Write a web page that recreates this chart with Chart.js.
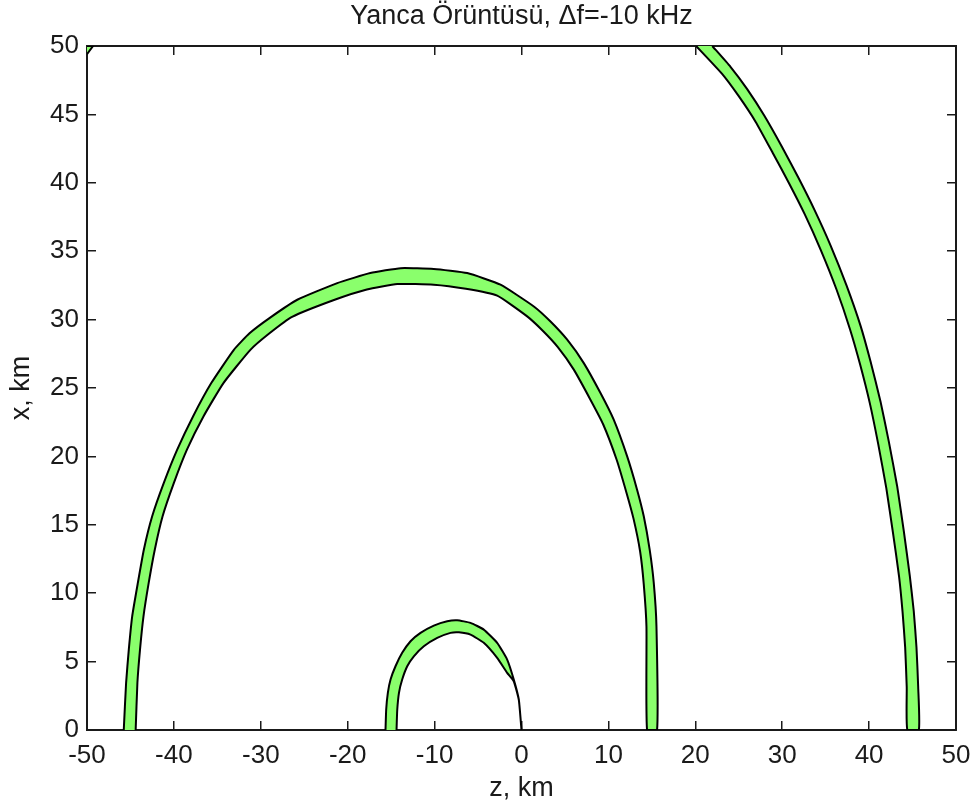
<!DOCTYPE html>
<html lang="tr">
<head>
<meta charset="UTF-8" />
<title>Yanca Örüntüsü</title>
<script src="https://cdn.jsdelivr.net/npm/chart.js@4.4.1/dist/chart.umd.min.js"></script>
<style>
  html, body { margin: 0; padding: 0; background: #ffffff; }
  #wrap { width: 975px; height: 809px; }
</style>
</head>
<body>
<div id="wrap"><canvas id="fringe" width="975" height="809"></canvas></div>
<script>
  // axis ticks (km)
  const zTicks = [-50, -40, -30, -20, -10, 0, 10, 20, 30, 40, 50];
  const xTicks = [0, 5, 10, 15, 20, 25, 30, 35, 40, 45, 50];

  // inner fringe near the origin
  const smallOuterZ = [-15.65, -15.57, -15.38, -15.07, -14.5, -13.73, -12.77, -11.62, -10.09, -8.55, -7.4, -5.87, -4.34, -2.8, -1.65, -0.89, -0.31, 0];
  const smallOuterX = [0, 1.5, 2.72, 3.69, 4.66, 5.64, 6.49, 7.1, 7.63, 7.95, 8.02, 7.83, 7.34, 6.37, 5.15, 3.69, 2.23, 0];
  const smallInnerZ = [-14.38, -14.3, -14.1, -13.73, -13.15, -12.39, -11.24, -9.7, -8.17, -7.2, -5.87, -4.34, -2.8, -1.65, -0.89, -0.31, 0];
  const smallInnerX = [0, 1.46, 2.72, 3.69, 4.66, 5.39, 6.12, 6.73, 7.1, 7.14, 6.97, 6.37, 5.27, 4.18, 3.56, 2.2, 0];

  // middle fringe
  const midOuterZ = [-45.77, -45.5, -45.19, -44.8, -44.15, -43.46, -42.5, -41.16, -39.62, -37.8, -35.7, -33.1, -31.3, -28.8, -25.8, -21.2, -17.4,
    -13.9, -10.1, -6.25, -2.42, 1.42, 3.34, 5.26, 7.17, 9.09, 10.6, 12.16, 13.3, 14.07, 14.75, 15.22, 15.53, 15.6];
  const midOuterX = [0, 3.45, 5.88, 8.31, 10.75, 13.18, 15.62, 18.06, 20.49, 22.92, 25.36, 27.79, 29.0, 30.2, 31.45, 32.67, 33.4,
    33.76, 33.7, 33.4, 32.55, 30.96, 29.86, 28.53, 26.82, 24.63, 22.7, 20.0, 17.57, 15.62, 13.18, 10.75, 7.58, 0];
  const midInnerZ = [-44.4, -44.2, -43.9, -43.5, -42.9, -42.2, -41.3, -40.0, -38.5, -36.6, -34.3, -31.2, -29.0, -26.4, -21.5, -17.8,
    -14.3, -10.1, -6.4, -2.8, 0.58, 2.36, 4.18, 6.0, 7.87, 9.38, 10.96, 12.08, 12.89, 13.65, 14.07, 14.38, 14.45];
  const midInnerX = [0, 3.45, 5.88, 8.31, 10.75, 13.18, 15.62, 18.06, 20.49, 22.92, 25.36, 27.79, 29.0, 30.2, 31.45, 32.2,
    32.6, 32.55, 32.25, 31.75, 30.27, 29.24, 27.99, 26.36, 24.22, 22.37, 19.74, 17.35, 15.45, 13.05, 10.65, 7.55, 0];

  // outer fringe, cut by the top of the frame
  const bigOuterZ = [21.95, 24.05, 25.97, 27.95, 30.0, 31.9, 33.7, 35.56, 37.4, 39.01, 40.16, 41.31, 42.27, 43.23, 43.99, 44.68, 45.14, 45.45, 45.65, 45.72];
  const bigOuterX = [50, 48.48, 46.85, 44.9, 42.6, 40.33, 38.04, 35.43, 32.5, 29.56, 26.95, 24.02, 21.08, 17.82, 14.55, 11.29, 8.68, 6.07, 3.13, 0];
  const bigInnerZ = [20.1, 23.06, 24.98, 26.95, 28.9, 30.8, 32.6, 34.43, 36.25, 37.8, 38.96, 40.1, 41.04, 41.98, 42.74, 43.45, 43.85, 44.15, 44.33, 44.4];
  const bigInnerX = [50, 47.98, 46.35, 44.45, 42.2, 39.95, 37.69, 35.1, 32.2, 29.3, 26.73, 23.84, 20.93, 17.68, 14.44, 11.22, 8.63, 6.04, 3.12, 0];

  // corner piece at (-50, 50)
  const cornerZ = [-50, -49.3, -50];
  const cornerX = [50, 50, 49.4];

  const fillColor = '#8aff6c';
  const inkColor = '#1a1a1a';
  const fontFamily = "'Liberation Sans', Arial, Helvetica, sans-serif";

  const toPoints = (zs, xs) => zs.map((z, i) => ({ x: z, y: xs[i] }));
  // closed outline: outer edge, then inner edge walked back
  const band = (oz, ox, iz, ix) => toPoints(oz, ox).concat(toPoints(iz, ix).reverse());

  const bandSet = (data, tension) => ({
    data,
    showLine: true,
    fill: 'shape',
    backgroundColor: fillColor,
    borderColor: '#000000',
    borderWidth: 2,
    borderJoinStyle: 'round',
    pointRadius: 0,
    tension
  });

  const fixedTicks = (list) => (scale) => { scale.ticks = list.map(v => ({ value: v })); };
  // fixed box sizes so the plot frame sits at 87..956 x 46..730
  const fitX = (h) => (s) => { s.height = h; s.paddingLeft = 0; s.paddingRight = 0; };
  const fitY = (w) => (s) => { s.width = w; s.paddingTop = 0; s.paddingBottom = 0; };

  const frameGrid = {
    drawOnChartArea: false,
    drawTicks: true,
    tickLength: -9,
    color: inkColor,
    lineWidth: 1.5
  };
  const frameBorder = { display: true, color: inkColor, width: 2 };
  const tickFont = { family: fontFamily, size: 26 };
  const titleFont = { family: fontFamily, size: 27 };

  new Chart(document.getElementById('fringe'), {
    type: 'scatter',
    data: {
      datasets: [
        bandSet(band(smallOuterZ, smallOuterX, smallInnerZ, smallInnerX), 0.15),
        bandSet(band(midOuterZ, midOuterX, midInnerZ, midInnerX), 0.15),
        bandSet(band(bigOuterZ, bigOuterX, bigInnerZ, bigInnerX), 0.15),
        bandSet(toPoints(cornerZ, cornerX), 0)
      ]
    },
    options: {
      responsive: false,
      animation: false,
      devicePixelRatio: 1,
      layout: { padding: 0 },
      plugins: {
        legend: { display: false },
        title: { display: false },
        tooltip: { enabled: false }
      },
      scales: {
        x: {
          type: 'linear',
          position: 'bottom',
          min: -50,
          max: 50,
          afterBuildTicks: fixedTicks(zTicks),
          afterFit: fitX(79),
          grid: frameGrid,
          border: frameBorder,
          ticks: { color: inkColor, font: tickFont, padding: 19, maxRotation: 0, minRotation: 0, autoSkip: false },
          title: { display: true, text: 'z, km', color: inkColor, font: titleFont, padding: { top: 0, bottom: 4 } }
        },
        x2: {
          type: 'linear',
          position: 'top',
          min: -50,
          max: 50,
          afterBuildTicks: fixedTicks(zTicks),
          afterFit: fitX(46),
          grid: frameGrid,
          border: frameBorder,
          ticks: { display: false },
          title: { display: true, text: 'Yanca Örüntüsü, Δf=-10 kHz', color: inkColor, font: titleFont, padding: { top: 0, bottom: 0 } }
        },
        y: {
          type: 'linear',
          position: 'left',
          min: 0,
          max: 50,
          afterBuildTicks: fixedTicks(xTicks),
          afterFit: fitY(87),
          grid: frameGrid,
          border: frameBorder,
          ticks: { color: inkColor, font: tickFont, padding: 17, autoSkip: false },
          title: { display: true, text: 'x, km', color: inkColor, font: titleFont, padding: { top: 5, bottom: 0 } }
        },
        y2: {
          type: 'linear',
          position: 'right',
          min: 0,
          max: 50,
          afterBuildTicks: fixedTicks(xTicks),
          afterFit: fitY(19),
          grid: frameGrid,
          border: frameBorder,
          ticks: { display: false }
        }
      }
    }
  });
</script>
</body>
</html>
